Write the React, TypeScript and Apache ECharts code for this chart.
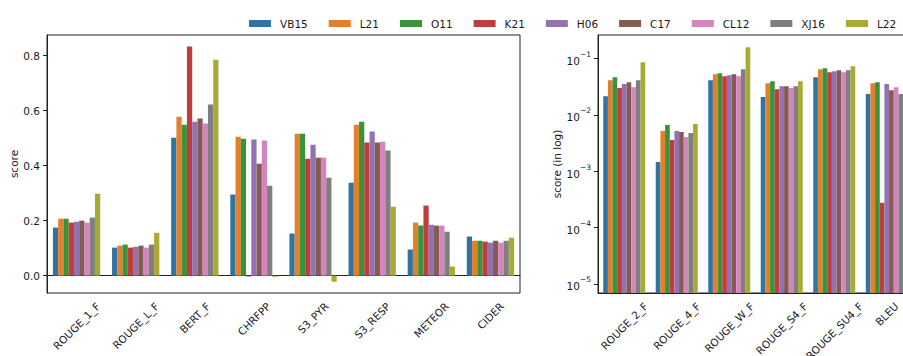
import React, { useEffect, useRef } from 'react';
import * as echarts from 'echarts';

const models = ['VB15', 'L21', 'O11', 'K21', 'H06', 'C17', 'CL12', 'XJ16', 'L22'];
const colors = ['#3274a1', '#e1812c', '#3a923a', '#c03d3e', '#9372b2', '#845b53', '#d684bd', '#7f7f7f', '#a9aa35'];

const leftMetrics = ['ROUGE_1_F', 'ROUGE_L_F', 'BERT_F', 'CHRFPP', 'S3_PYR', 'S3_RESP', 'METEOR', 'CIDER'];
const rightMetrics = ['ROUGE_2_F', 'ROUGE_4_F', 'ROUGE_W_F', 'ROUGE_S4_F', 'ROUGE_SU4_F', 'BLEU'];

// left panel (linear score), one array per model, in leftMetrics order
const VB15_left = [0.175, 0.102, 0.501, 0.295, 0.153, 0.338, 0.095, 0.142];
const L21_left = [0.207, 0.109, 0.578, 0.505, 0.516, 0.549, 0.193, 0.127];
const O11_left = [0.207, 0.113, 0.549, 0.498, 0.516, 0.560, 0.182, 0.127];
const K21_left = [0.193, 0.102, 0.833, -0.003, 0.425, 0.484, 0.255, 0.124];
const H06_left = [0.196, 0.105, 0.560, 0.495, 0.476, 0.524, 0.185, 0.120];
const C17_left = [0.200, 0.109, 0.571, 0.407, 0.429, 0.484, 0.182, 0.127];
const CL12_left = [0.193, 0.102, 0.553, 0.491, 0.429, 0.487, 0.182, 0.120];
const XJ16_left = [0.211, 0.113, 0.622, 0.327, 0.356, 0.455, 0.160, 0.127];
const L22_left = [0.298, 0.156, 0.785, -0.004, -0.022, 0.251, 0.033, 0.138];

// right panel (log score), one array per model, in rightMetrics order
const VB15_right = [0.0215, 0.00146, 0.0414, 0.0207, 0.0468, 0.0234];
const L21_right = [0.0414, 0.00517, 0.0528, 0.0366, 0.0648, 0.0366];
const O11_right = [0.0468, 0.00661, 0.0550, 0.0397, 0.0675, 0.0381];
const K21_right = [0.0299, 0.00359, 0.0486, 0.0286, 0.0573, 0.000275];
const H06_right = [0.0352, 0.00517, 0.0507, 0.0324, 0.0597, 0.0352];
const C17_right = [0.0381, 0.00497, 0.0528, 0.0324, 0.0622, 0.0275];
const CL12_right = [0.0311, 0.00406, 0.0486, 0.0299, 0.0573, 0.0311];
const XJ16_right = [0.0414, 0.00477, 0.0648, 0.0324, 0.0622, 0.0234];
const L22_right = [0.0861, 0.00688, 0.159, 0.0397, 0.0732, 0.030];

const leftTicks = [0, 0.2, 0.4, 0.6, 0.8];
const rightTicks = [1e-5, 1e-4, 1e-3, 1e-2, 1e-1];

const leftData = [VB15_left, L21_left, O11_left, K21_left, H06_left, C17_left, CL12_left, XJ16_left, L22_left];
const rightData = [VB15_right, L21_right, O11_right, K21_right, H06_right, C17_right, CL12_right, XJ16_right, L22_right];

const FONT = 'DejaVu Sans';
const FS = 10.5;
const TXT = '#1a1a1a';
const LINE = '#222';

const LEFT_MIN = -0.063;
const LEFT_MAX = 0.875;
const RIGHT_MIN = 6.9e-6;
const RIGHT_MAX = 0.262;

const minorTicks: number[] = [];
for (let k = -6; k <= -1; k++) {
  for (let m = 2; m <= 9; m++) {
    const v = m * Math.pow(10, k);
    if (v > RIGHT_MIN && v < RIGHT_MAX) minorTicks.push(v);
  }
}

export default function App() {
  const ref = useRef<HTMLDivElement>(null);
  useEffect(() => {
    if (!ref.current) return;
    const chart = echarts.init(ref.current, null, { renderer: 'svg' });
    const axisLineStyle = { color: LINE, width: 1 };
    const series: any[] = [];
    models.forEach((m, i) => {
      series.push({
        name: m, type: 'bar', xAxisIndex: 0, yAxisIndex: 0,
        data: leftData[i], itemStyle: { color: colors[i] },
        barGap: '0%', barCategoryGap: '20%',
      });
    });
    models.forEach((m, i) => {
      series.push({
        name: m, type: 'bar', xAxisIndex: 1, yAxisIndex: 1,
        data: rightData[i], itemStyle: { color: colors[i] },
        barGap: '0%', barCategoryGap: '20%',
      });
    });
    const option: any = {
      animation: false,
      textStyle: { fontFamily: FONT },
      color: colors,
      legend: {
        data: models, left: 244, top: 13, itemWidth: 22, itemHeight: 7, itemGap: 21,
        icon: 'rect',
        textStyle: { fontSize: FS, fontFamily: FONT, color: TXT, padding: [0, 0, 0, 4] },
      },
      grid: [
        { left: 47, top: 35, width: 473, height: 258, show: true, borderColor: LINE, borderWidth: 1, containLabel: false },
        { left: 598, top: 35, width: 315, height: 258, show: true, borderColor: LINE, borderWidth: 1, containLabel: false },
      ],
      xAxis: [
        {
          type: 'category', gridIndex: 0, data: leftMetrics,
          axisLine: { lineStyle: axisLineStyle },
          axisTick: { alignWithLabel: true, length: 4, lineStyle: axisLineStyle },
          axisLabel: { show: false },
        },
        {
          type: 'category', gridIndex: 1, data: rightMetrics,
          axisLine: { lineStyle: axisLineStyle },
          axisTick: { alignWithLabel: true, length: 4, lineStyle: axisLineStyle },
          axisLabel: { show: false },
        },
      ],
      yAxis: [
        {
          type: 'value', gridIndex: 0, min: LEFT_MIN, max: LEFT_MAX,
          axisLine: { show: true, lineStyle: axisLineStyle },
          axisTick: { show: true, length: 4, lineStyle: axisLineStyle, customValues: leftTicks },
          axisLabel: { customValues: leftTicks, formatter: (v: number) => v.toFixed(1), margin: 7, fontSize: FS, color: TXT, fontFamily: FONT },
          splitLine: { show: false },
          name: 'score', nameLocation: 'middle', nameGap: 28, nameRotate: 90,
          nameTextStyle: { fontSize: FS, color: TXT, fontFamily: FONT },
        },
        {
          type: 'log', logBase: 10, gridIndex: 1, min: RIGHT_MIN, max: RIGHT_MAX, startValue: RIGHT_MIN,
          axisLine: { show: true, lineStyle: axisLineStyle },
          axisTick: { show: true, length: 4, lineStyle: axisLineStyle, customValues: rightTicks },
          axisLabel: {
            customValues: rightTicks, margin: 7, color: TXT, fontFamily: FONT,
            formatter: (v: number) => '{b|10}{s|\u2212' + Math.round(-Math.log10(v)) + '}',
            rich: {
              b: { fontSize: FS, fontFamily: FONT, color: TXT, lineHeight: 16, verticalAlign: 'bottom' },
              s: { fontSize: 7.5, fontFamily: FONT, color: TXT, lineHeight: 16, verticalAlign: 'top' },
            },
          },
          splitLine: { show: false },
          name: 'score (in log)', nameLocation: 'middle', nameGap: 31, nameRotate: 90,
          nameTextStyle: { fontSize: FS, color: TXT, fontFamily: FONT },
        },
        {
          type: 'log', logBase: 10, gridIndex: 1, min: RIGHT_MIN, max: RIGHT_MAX,
          axisLine: { show: false },
          axisTick: { show: true, length: 2, lineStyle: axisLineStyle, customValues: minorTicks },
          axisLabel: { show: false },
          splitLine: { show: false },
        },
      ],
      series,
    };
    chart.setOption(option);

    // x tick labels rotated 45deg, centred under tick (matplotlib style)
    const canvas = document.createElement('canvas');
    const ctx = canvas.getContext('2d')!;
    ctx.font = `${FS}px "${FONT}"`;
    const h = FS * 1.17;
    const graphics: any[] = [];
    const addLabels = (cats: string[], xi: number, yi: number, ymin: number) => {
      const bottom = chart.convertToPixel({ yAxisIndex: yi } as any, ymin) as unknown as number;
      cats.forEach((c) => {
        const x = chart.convertToPixel({ xAxisIndex: xi } as any, c) as unknown as number;
        const w = ctx.measureText(c).width;
        const ext = (w + h) * Math.SQRT1_2;
        graphics.push({
          type: 'text', x, y: bottom + 7 + ext / 2, rotation: Math.PI / 4, silent: true,
          style: { text: c, fontSize: FS, fontFamily: FONT, fill: TXT, align: 'center', verticalAlign: 'middle' },
        });
      });
    };
    addLabels(leftMetrics, 0, 0, LEFT_MIN);
    addLabels(rightMetrics, 1, 1, RIGHT_MIN);
    chart.setOption({ graphic: graphics });

    return () => chart.dispose();
  }, []);
  return (
    <div style={{ position: 'absolute', left: 0, top: 0, width: 903, height: 356, overflow: 'hidden', background: '#fff' }}>
      <div ref={ref} style={{ width: 960, height: 356 }} />
    </div>
  );
}
